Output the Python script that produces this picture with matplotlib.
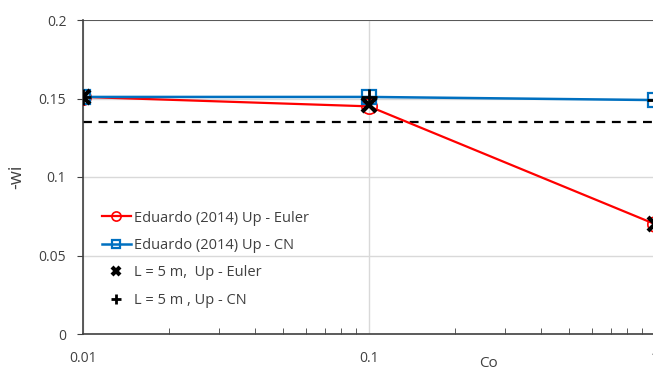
import numpy as np
import matplotlib
matplotlib.use("Agg")
import matplotlib.pyplot as plt
from matplotlib.ticker import FixedLocator, NullFormatter

plt.rcParams['font.family'] = ['Open Sans', 'DejaVu Sans']

co = [0.01, 0.1, 1.0]
euler_ref = [0.151, 0.145, 0.070]
cn_ref = [0.151, 0.151, 0.149]
euler_l5 = [0.151, 0.146, 0.070]
cn_l5 = [0.151, 0.151, 0.149]
dashed_level = 0.135

fig = plt.figure(figsize=(6.53, 3.71), dpi=100)
ax = fig.add_axes([83 / 653, 1 - 334 / 371, 572 / 653, 314 / 371])

ax.axhline(dashed_level, color='black', ls=(0, (4, 3)), lw=1.6, zorder=2)
ax.plot(co, euler_ref, color='#ff0000', lw=1.6, marker='o', ms=11, mfc='none',
        mec='#ff0000', mew=1.2, label='Eduardo (2014) Up - Euler', zorder=3)
ax.plot(co, cn_ref, color='#0070c0', lw=1.8, marker='s', ms=10, mfc='none',
        mec='#0070c0', mew=1.6, label='Eduardo (2014) Up - CN', zorder=3)
ax.plot(co, euler_l5, ls='none', marker='x', ms=10, mec='black', mew=3,
        label='L = 5 m,  Up - Euler', zorder=4)
ax.plot(co, cn_l5, ls='none', marker='+', ms=12, mec='black', mew=2,
        label='L = 5 m , Up - CN', zorder=4)

ax.set_xscale('log')
ax.set_xlim(0.01, 1)
ax.set_ylim(0, 0.2)
ax.set_yticks([0, 0.05, 0.1, 0.15, 0.2])
ax.set_yticklabels(['0', '0.05', '0.1', '0.15', '0.2'])
ax.set_xticks([0.01, 0.1, 1])
ax.set_xticklabels(['0.01', '0.1', '1'])
minors = [m * d for d in (0.01, 0.1) for m in range(2, 10)]
ax.xaxis.set_minor_locator(FixedLocator(minors))
ax.xaxis.set_minor_formatter(NullFormatter())

ax.grid(True, which='major', color='#d9d9d9', lw=1)
ax.set_axisbelow(True)
for s in ['top', 'right']:
    ax.spines[s].set_visible(False)
ax.spines['left'].set_color('#404040')
ax.spines['bottom'].set_color('#404040')
ax.spines['left'].set_linewidth(1.2)
ax.spines['bottom'].set_linewidth(1.2)
ax.axhline(0.2, color='#404040', lw=1.2, zorder=1)

ax.tick_params(axis='x', which='minor', direction='in', length=4, color='#404040')
ax.tick_params(axis='x', which='major', direction='in', length=0, pad=12,
               labelsize=10, labelcolor='#404040')
ax.tick_params(axis='y', which='major', direction='out', length=4, color='#404040',
               labelsize=10, labelcolor='#404040', pad=8)

ax.set_ylabel('-wi', fontsize=13, color='#404040', labelpad=10)
ax.set_xlabel('Co', fontsize=11, color='#404040')
ax.xaxis.set_label_coords((488 - 83) / 572, -0.07)

ax.legend(loc='upper left', bbox_to_anchor=(0.01, 0.435), frameon=False, fontsize=10.5,
          handlelength=2.0, handletextpad=0.2, labelspacing=0.85, markerscale=0.6,
          labelcolor='#404040')

fig.savefig('out.png', dpi=100)
